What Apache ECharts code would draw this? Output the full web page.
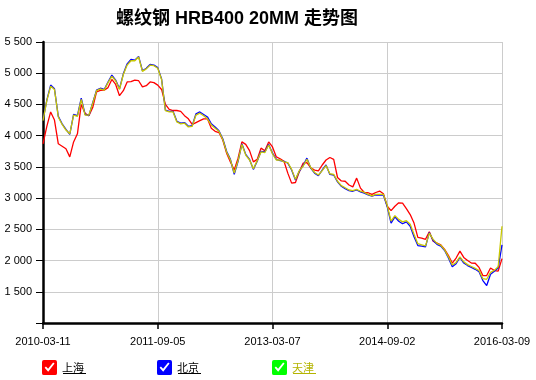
<!DOCTYPE html>
<html>
<head>
<meta charset="utf-8">
<script src="https://cdn.jsdelivr.net/npm/echarts@6/dist/echarts.min.js"></script>
<style>
html,body{margin:0;padding:0;background:#fff;}
#chart{width:536px;height:380px;}
</style>
</head>
<body>
<div id="chart"></div>
<script>
// Sample positions run 0..120 along the x axis; tick labels at every 30 samples
var xTickLabels = ['2010-03-11', '2011-09-05', '2013-03-07', '2014-09-02', '2016-03-09'];
var yTicks = [1000, 1500, 2000, 2500, 3000, 3500, 4000, 4500, 5000, 5500];
var seriesNames = ['上海', '北京', '天津'];

var shanghai = [
3870,4150,4380,4250,3870,3830,3790,3660,3900,4030,
4500,4360,4320,4450,4700,4726,4730,4770,4900,4820,
4640,4720,4860,4865,4890,4880,4780,4800,4860,4850,
4810,4740,4500,4420,4403,4403,4390,4320,4270,4180,
4210,4240,4270,4270,4120,4070,4050,3930,3720,3580,
3450,3640,3900,3860,3760,3580,3620,3800,3758,3900,
3820,3660,3630,3590,3400,3240,3250,3420,3560,3570,
3485,3450,3435,3530,3610,3650,3620,3330,3275,3270,
3210,3180,3320,3160,3090,3086,3059,3090,3113,3070,
2870,2800,2870,2925,2920,2830,2737,2600,2370,2360,
2340,2460,2310,2280,2250,2180,2080,1960,2040,2150,
2050,2000,1960,1957,1890,1760,1760,1880,1840,1830,
2030];

var beijing = [
4250,4570,4810,4750,4310,4190,4100,4020,4340,4320,
4600,4340,4320,4530,4730,4760,4740,4860,4970,4890,
4750,4990,5150,5220,5210,5270,5040,5080,5140,5130,
5090,4910,4410,4390,4390,4230,4200,4210,4150,4160,
4350,4380,4340,4300,4190,4140,4080,3950,3750,3620,
3380,3590,3870,3700,3620,3460,3590,3750,3740,3860,
3720,3620,3600,3590,3560,3450,3290,3430,3520,3640,
3480,3400,3360,3450,3530,3380,3370,3260,3190,3150,
3120,3110,3130,3100,3080,3050,3030,3050,3050,3050,
2860,2600,2700,2630,2590,2620,2550,2380,2240,2230,
2220,2450,2320,2260,2230,2160,2040,1900,1950,2050,
1960,1920,1890,1860,1820,1680,1600,1780,1830,1880,
2250];

var tianjin = [
4240,4560,4790,4740,4300,4180,4090,4030,4330,4310,
4580,4330,4330,4520,4720,4750,4730,4850,4950,4880,
4740,4980,5130,5200,5200,5260,5030,5070,5130,5120,
5080,4900,4400,4380,4380,4220,4190,4200,4140,4150,
4330,4360,4320,4270,4170,4120,4070,3940,3740,3610,
3400,3600,3860,3690,3610,3470,3600,3740,3730,3850,
3710,3610,3610,3580,3570,3460,3300,3440,3510,3620,
3490,3410,3370,3440,3520,3390,3380,3270,3200,3165,
3130,3120,3140,3110,3090,3060,3035,3060,3060,3060,
2880,2630,2720,2660,2620,2640,2580,2420,2270,2253,
2235,2440,2340,2275,2245,2170,2060,1930,1970,2060,
1980,1935,1905,1875,1840,1710,1700,1810,1845,1900,
2550];

var lineColors = ['#ff0000', '#0000ff', '#c8c800'];
var legendIconColors = ['#ff0000', '#0000ff', '#00ff00'];
var legendTextColors = ['#000000', '#000000', '#b4b400'];

var allValues = [shanghai, beijing, tianjin];
var labelStep = (shanghai.length - 1) / (xTickLabels.length - 1);

function toPairs(arr) { return arr.map(function (v, i) { return [i, v]; }); }
function fmtThousands(v) {
  var s = String(v);
  return s.replace(/\B(?=(\d{3})+(?!\d))/g, ' ');
}

var checkIcon = 'path://M2,0 H14 Q16,0 16,2 V14 Q16,16 14,16 H2 Q0,16 0,14 V2 Q0,0 2,0 Z ' +
  'M2.8,8.2 L6.6,12.6 L13.4,3.8 L11.9,2.6 L6.5,9.4 L4.2,6.8 Z';

var FONT = '"Liberation Sans", Arial, "Noto Sans CJK SC", sans-serif';
var CJK = '"Noto Sans CJK SC", "Liberation Sans", sans-serif';

var legendLefts = [42, 157, 272];
var legends = seriesNames.map(function (n, k) {
  return {
    data: [{ name: n, itemStyle: { color: legendIconColors[k], borderWidth: 0 }, textStyle: { color: legendTextColors[k] } }],
    left: legendLefts[k], top: 360, padding: 0,
    icon: checkIcon, itemWidth: 15, itemHeight: 15, itemGap: 7,
    selectedMode: false,
    textStyle: { fontFamily: CJK, fontSize: 11 }
  };
});

var underlines = seriesNames.map(function (n, k) {
  return {
    type: 'line', silent: true,
    shape: { x1: legendLefts[k] + 21, y1: 373.5, x2: legendLefts[k] + 44, y2: 373.5 },
    style: { stroke: legendTextColors[k], lineWidth: 1 }
  };
});

var chart = echarts.init(document.getElementById('chart'), null, { renderer: 'canvas' });
chart.setOption({
  animation: false,
  backgroundColor: '#ffffff',
  title: {
    text: '螺纹钢 HRB400 20MM 走势图',
    left: 111, top: 5,
    textStyle: { fontFamily: '"Liberation Sans", "Noto Sans CJK SC", sans-serif', fontSize: 18, fontWeight: 'bold', color: '#000' }
  },
  legend: legends,
  graphic: underlines,
  grid: { left: 43, right: 34, top: 42, bottom: 57, containLabel: false },
  xAxis: {
    type: 'value', min: 0, max: shanghai.length - 1, interval: labelStep,
    axisLine: { show: true, onZero: false, lineStyle: { color: '#000', width: 2.5 } },
    axisTick: { show: true, length: 6, lineStyle: { color: '#000', width: 1.5 } },
    axisLabel: {
      margin: 13, fontFamily: FONT, fontSize: 11, color: '#000',
      formatter: function (v) { var k = Math.round(v / labelStep); return xTickLabels[k] || ''; }
    },
    splitLine: { show: true, lineStyle: { color: '#cccccc', width: 1 } }
  },
  yAxis: {
    type: 'value', min: yTicks[0], max: yTicks[yTicks.length - 1], interval: yTicks[1] - yTicks[0],
    axisLine: { show: true, onZero: false, lineStyle: { color: '#000', width: 2.5 } },
    axisTick: { show: true, length: 7, lineStyle: { color: '#000', width: 1 } },
    axisLabel: {
      margin: 11, fontFamily: FONT, fontSize: 11, color: '#000',
      formatter: function (v) { return v === yTicks[0] ? '' : fmtThousands(v); }
    },
    splitLine: { show: true, lineStyle: { color: '#cccccc', width: 1 } }
  },
  series: seriesNames.map(function (n, k) {
    return {
      name: n, type: 'line', data: toPairs(allValues[k]),
      showSymbol: false, symbol: 'none', z: 2 + k,
      itemStyle: { color: lineColors[k] },
      lineStyle: { color: lineColors[k], width: 1.3 }
    };
  })
});
</script>
</body>
</html>
